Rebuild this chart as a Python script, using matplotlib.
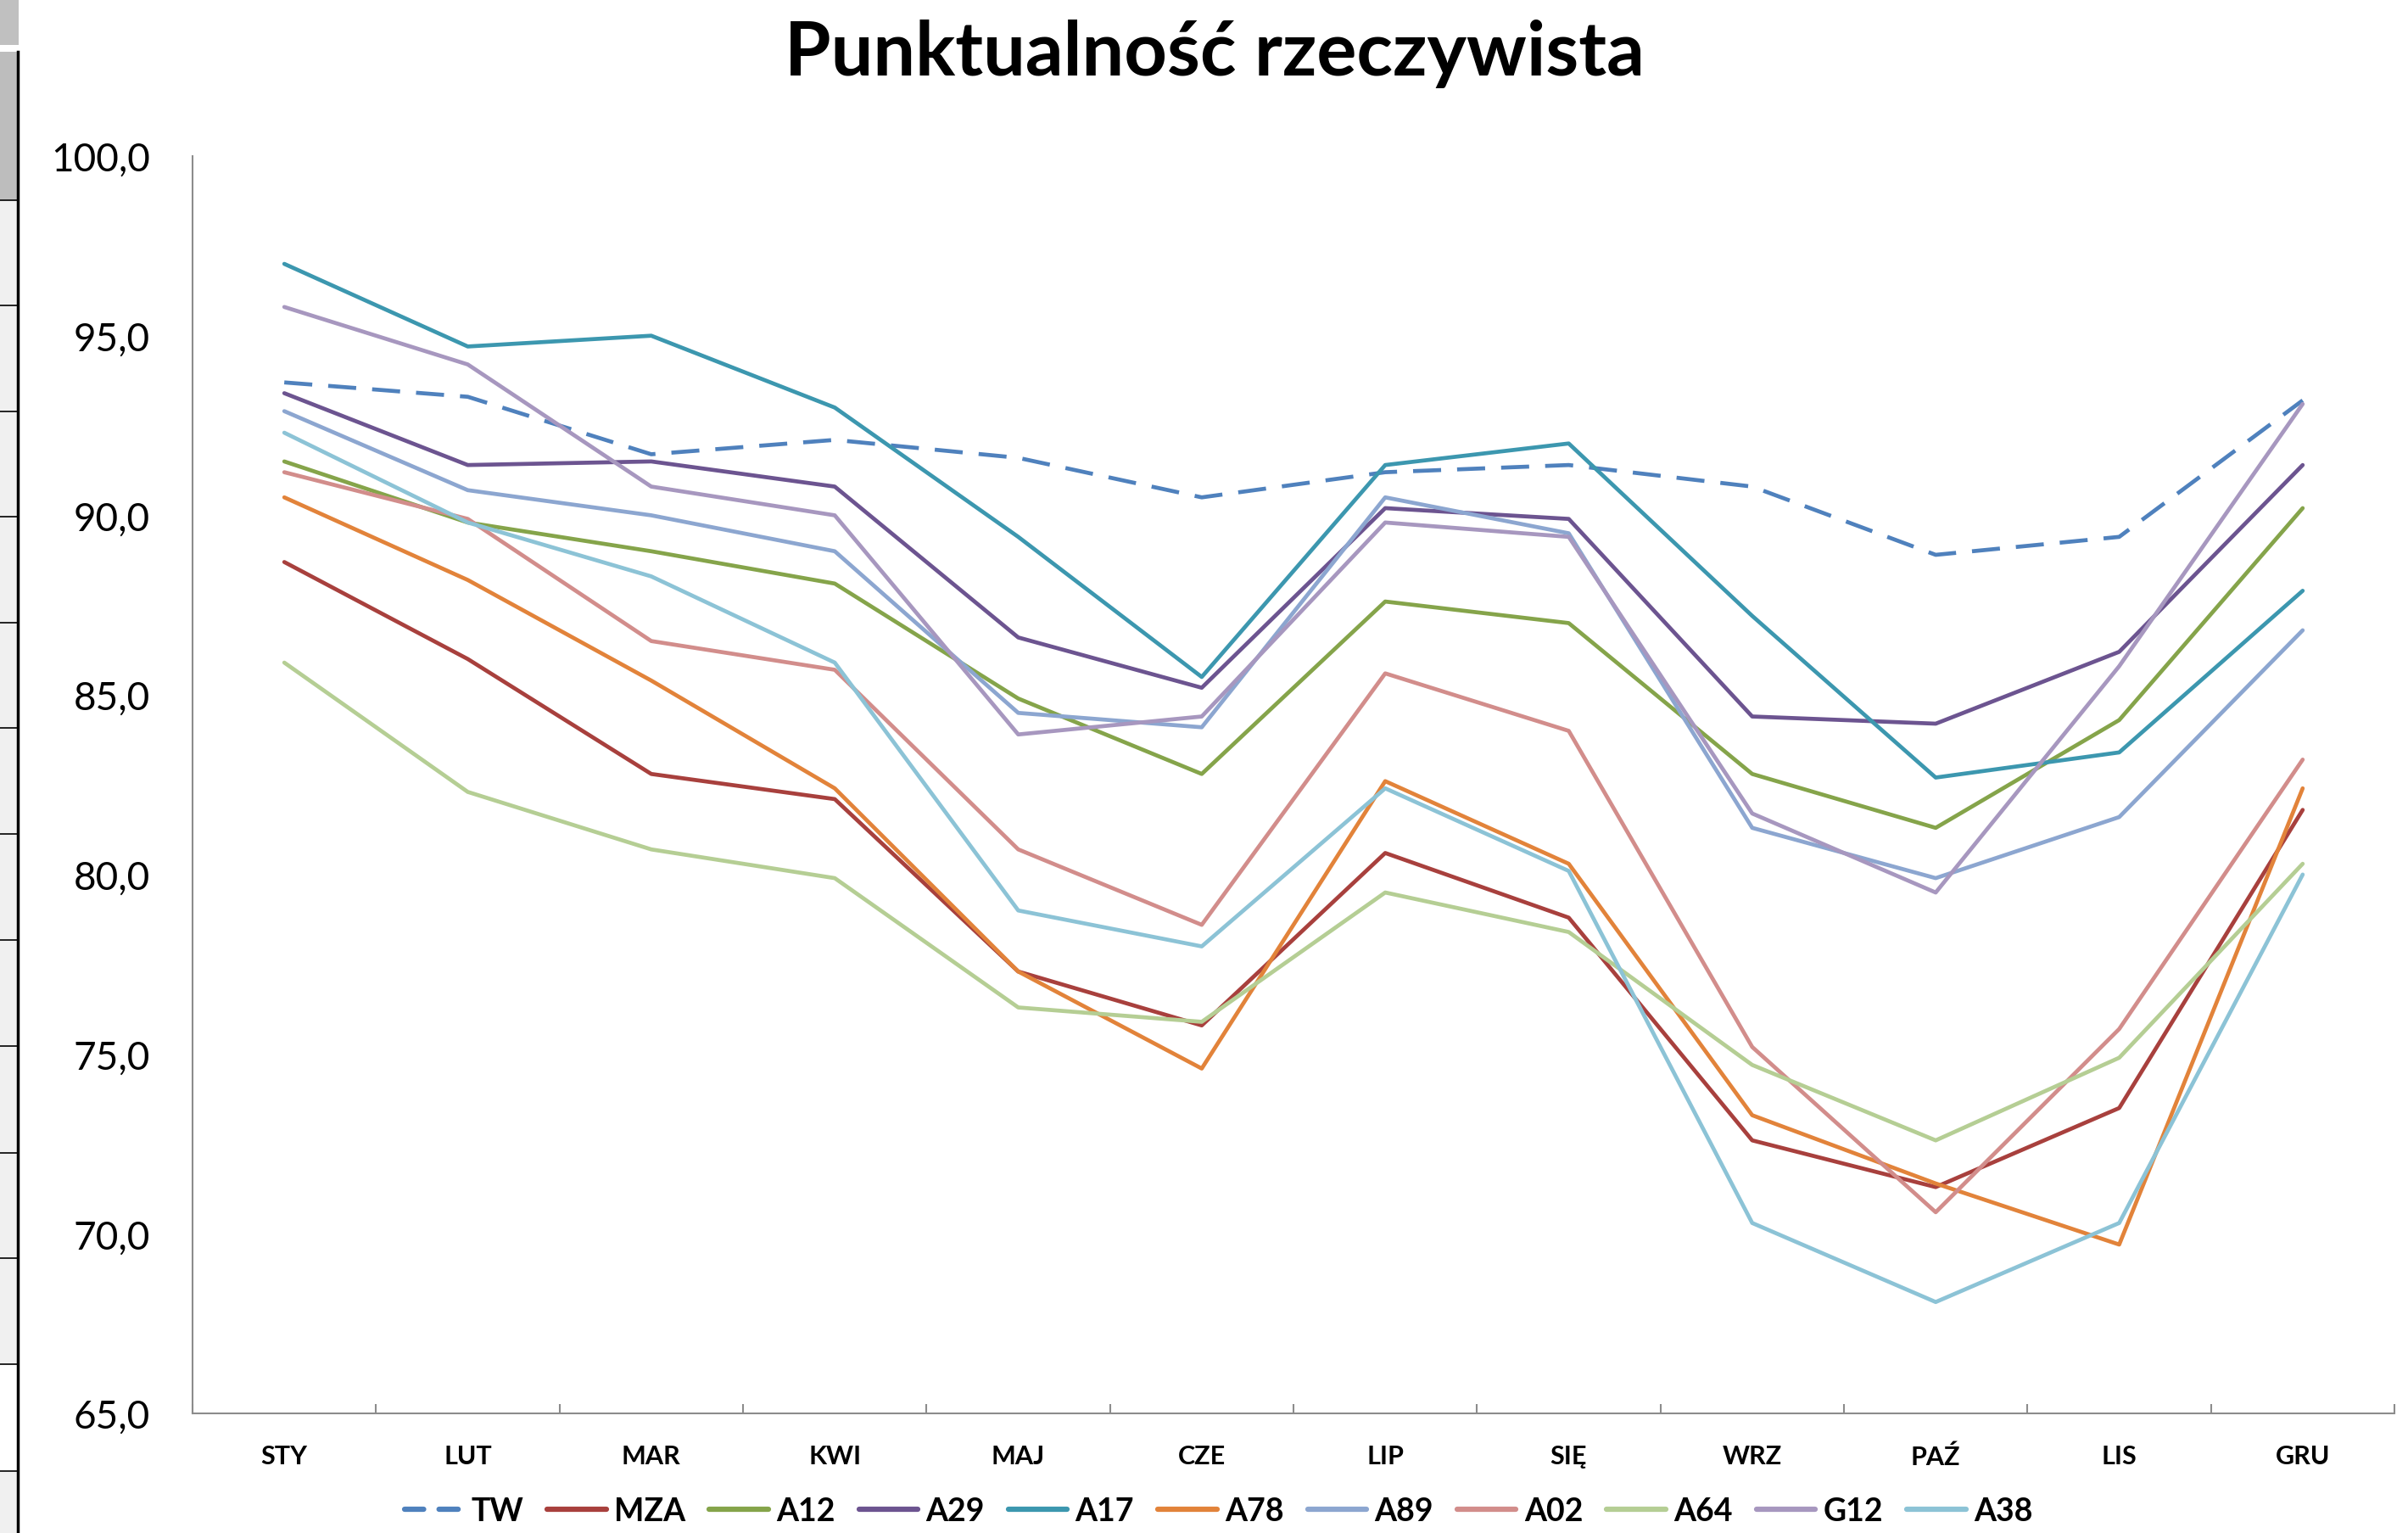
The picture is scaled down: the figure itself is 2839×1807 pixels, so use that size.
import matplotlib
matplotlib.use("Agg")
import matplotlib.pyplot as plt
import numpy as np
from matplotlib.patches import Rectangle
from matplotlib.lines import Line2D

# dane - punktualność rzeczywista [%]
miesiace = ["STY", "LUT", "MAR", "KWI", "MAJ", "CZE", "LIP", "SIĘ", "WRZ", "PAŹ", "LIS", "GRU"]
tw = [93.7, 93.3, 91.7, 92.1, 91.6, 90.5, 91.2, 91.4, 90.8, 88.9, 89.4, 93.2]
mza = [88.7, 86.0, 82.8, 82.1, 77.3, 75.8, 80.6, 78.8, 72.6, 71.3, 73.5, 81.8]
a12 = [91.5, 89.8, 89.0, 88.1, 84.9, 82.8, 87.6, 87.0, 82.8, 81.3, 84.3, 90.2]
a29 = [93.4, 91.4, 91.5, 90.8, 86.6, 85.2, 90.2, 89.9, 84.4, 84.2, 86.2, 91.4]
a17 = [97.0, 94.7, 95.0, 93.0, 89.4, 85.5, 91.4, 92.0, 87.2, 82.7, 83.4, 87.9]
a78 = [90.5, 88.2, 85.4, 82.4, 77.3, 74.6, 82.6, 80.3, 73.3, 71.4, 69.7, 82.4]
a89 = [92.9, 90.7, 90.0, 89.0, 84.5, 84.1, 90.5, 89.5, 81.3, 79.9, 81.6, 86.8]
a02 = [91.2, 89.9, 86.5, 85.7, 80.7, 78.6, 85.6, 84.0, 75.2, 70.6, 75.7, 83.2]
a64 = [85.9, 82.3, 80.7, 79.9, 76.3, 75.9, 79.5, 78.4, 74.7, 72.6, 74.9, 80.3]
g12 = [95.8, 94.2, 90.8, 90.0, 83.9, 84.4, 89.8, 89.4, 81.7, 79.5, 85.8, 93.1]
a38 = [92.3, 89.8, 88.3, 85.9, 79.0, 78.0, 82.4, 80.1, 70.3, 68.1, 70.3, 80.0]

serie = [("TW", tw), ("MZA", mza), ("A12", a12), ("A29", a29), ("A17", a17), ("A78", a78),
         ("A89", a89), ("A02", a02), ("A64", a64), ("G12", g12), ("A38", a38)]
kolory = ["#4F81BD", "#A8403D", "#85A44A", "#6C5490", "#3C97AF", "#E2833A",
          "#8CA6D0", "#D28D8B", "#B5CE94", "#A797BF", "#8CC3D6"]

W, H = 2839, 1808
fig = plt.figure(figsize=(W / 100, H / 100), dpi=100)
fig.patch.set_facecolor("white")

# kawałek arkusza po lewej stronie (zrzut ekranu z Excela)
fig.add_artist(Rectangle((0, 1 - 54 / H), 22 / W, 54 / H, transform=fig.transFigure,
                         facecolor="#C0C0C0", edgecolor="none"))
fig.add_artist(Rectangle((0, 0), 21 / W, 1 - 62 / H, transform=fig.transFigure,
                         facecolor="#F0F0F0", edgecolor="none"))
fig.add_artist(Rectangle((0, 1 - 237 / H), 21 / W, 175 / H, transform=fig.transFigure,
                         facecolor="#BDBDBD", edgecolor="none"))
fig.add_artist(Rectangle((0, 1 - 1735 / H), 21 / W, 126 / H, transform=fig.transFigure,
                         facecolor="white", edgecolor="none"))
for yy in [237, 361, 486, 610, 735, 859, 984, 1109, 1234, 1360, 1484, 1609, 1735]:
    fig.add_artist(Line2D([0, 21 / W], [1 - yy / H, 1 - yy / H], transform=fig.transFigure,
                          color="black", lw=1.2))
fig.add_artist(Line2D([21 / W, 21 / W], [0, 1 - 62 / H], transform=fig.transFigure,
                      color="black", lw=2.5))

ax = fig.add_axes([227 / W, 1 - 1667 / H, (2823 - 227) / W, (1667 - 185) / H])

x = np.arange(len(miesiace))
for (nazwa, wart), kol in zip(serie, kolory):
    if nazwa == "TW":
        ax.plot(x, wart, color=kol, lw=3.4, label=nazwa, linestyle=(0, (7, 4)),
                dash_capstyle="butt", solid_joinstyle="round")
    else:
        ax.plot(x, wart, color=kol, lw=3.4, label=nazwa,
                solid_joinstyle="round", solid_capstyle="round")

ax.set_xlim(-0.5, 11.5)
ax.set_ylim(65, 100)
ax.set_yticks(np.arange(65, 101, 5))
ax.set_yticklabels([f"{v:.1f}".replace(".", ",") for v in np.arange(65, 101, 5)],
                   fontsize=33, family="Lato")
ax.tick_params(axis="y", length=0, pad=36)

# podziałki między miesiącami, etykiety na środku
ax.set_xticks(np.arange(-0.5, 12, 1))
ax.set_xticklabels([])
ax.set_xticks(x, minor=True)
ax.set_xticklabels(miesiace, minor=True, fontsize=22, fontweight="bold", family="Lato")
ax.tick_params(axis="x", which="major", direction="in", length=8, width=1.5, color="#8C8C8C")
ax.tick_params(axis="x", which="minor", length=0, pad=26)

for s in ["top", "right"]:
    ax.spines[s].set_visible(False)
for s in ["left", "bottom"]:
    ax.spines[s].set_color("#8C8C8C")
    ax.spines[s].set_linewidth(1.5)

fig.text(0.5045, 1 - 63 / H, "Punktualność rzeczywista", ha="center", va="center",
         fontsize=63.5, fontweight="bold", family="Lato")

leg = fig.legend(loc="center", bbox_to_anchor=(0.506, 1 - 1782 / H), ncol=11, frameon=False,
                 prop={"family": "Lato", "weight": "bold", "size": 27},
                 handlelength=1.85, handletextpad=0.25, columnspacing=0.75)
for ln in leg.get_lines():
    ln.set_linewidth(4.5)
    ln.set_solid_capstyle("round")
leg.get_lines()[0].set_linestyle((0, (3.6, 2.9)))
leg.get_lines()[0].set_dash_capstyle("round")

fig.savefig("out.png", dpi=100)
